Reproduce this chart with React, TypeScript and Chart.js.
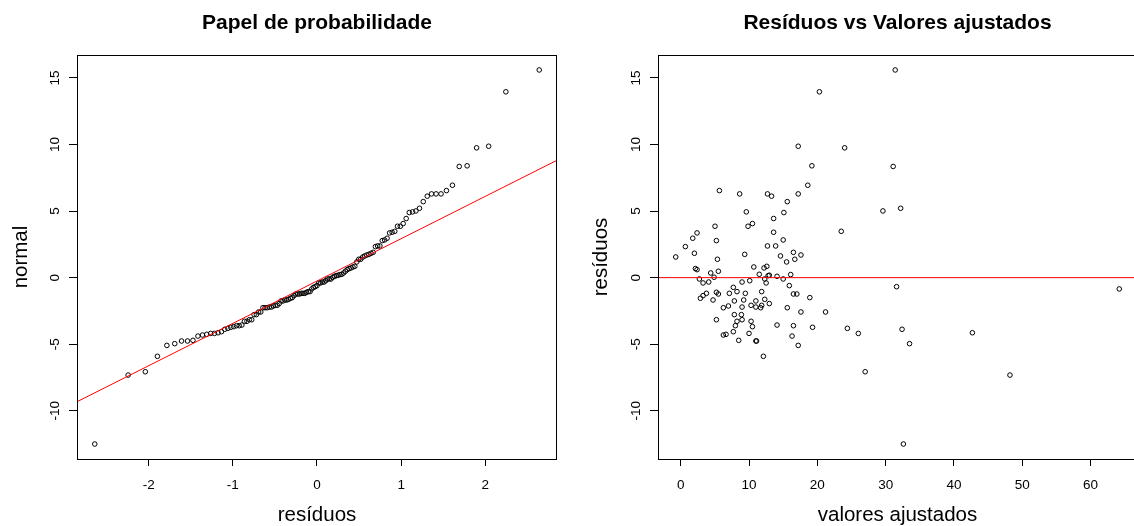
import React, { useEffect, useRef } from "react";
import { Chart, registerables } from "chart.js";

Chart.register(...registerables);

// ---- data ----
const fittedValues = [
  31.4, 20.3, 17.2, 24.0, 19.2, 31.1, 18.6, 5.66, 8.63, 12.7,
  13.3, 17.2, 15.6, 9.6, 15.1, 29.6, 32.2, 13.6, 10.5, 9.85,
  5.02, 2.39, 1.76, 13.6, 23.5, 5.22, 15.0, 0.68, 12.7, 13.9,
  2.0, -0.73, 9.37, 14.6, 16.5, 17.6, 16.7, 15.5, 5.37, 2.15,
  2.39, 10.7, 12.2, 12.6, 5.51, 4.39, 11.5, 12.8, 12.97, 16.1,
  14.1, 4.88, 2.73, 15.0, 12.3, 3.27, 4.1, 8.98, 10.1, 12.5,
  15.9, 31.6, 64.2, 7.7, 11.85, 8.24, 5.22, 5.51, 7.12, 9.46,
  3.76, 3.27, 2.88, 16.5, 17.0, 18.9, 4.73, 7.85, 9.22, 11.0,
  12.3, 12.97, 10.3, 6.98, 6.24, 8.98, 11.0, 11.7, 11.85, 15.6,
  17.6, 21.2, 7.85, 8.88, 8.98, 8.24, 5.22, 10.3, 8.0, 10.5,
  14.1, 16.5, 19.3, 24.4, 32.4, 7.7, 10.0, 6.24, 6.63, 16.3,
  26.0, 42.7, 8.49, 11.0, 11.1, 17.2, 33.5, 12.1, 27.0, 48.2,
  32.6,
];

const residuals = [
  15.6, 13.96, 9.87, 9.75, 8.4, 8.35, 6.94, 6.54, 6.29, 6.29,
  6.12, 6.29, 5.71, 4.94, 4.89, 5.01, 5.21, 4.44, 4.06, 3.86,
  3.86, 3.36, 2.96, 3.41, 3.48, 2.78, 2.83, 2.33, 2.38, 2.38,
  1.83, 1.55, 1.75, 1.63, 1.9, 1.7, 1.38, 1.18, 1.38, 0.68,
  0.6, 0.8, 0.73, 0.85, 0.48, 0.35, 0.25, 0.15, 0.18, 0.23,
  0.1, 0.03, -0.1, -0.1, -0.1, -0.4, -0.33, -0.33, -0.23, -0.4,
  -0.6, -0.68, -0.85, -0.73, -1.05, -1.05, -1.1, -1.23, -1.18, -1.18,
  -1.18, -1.35, -1.55, -1.23, -1.23, -1.5, -1.68, -1.75, -1.68, -1.75,
  -1.63, -1.95, -2.08, -2.13, -2.26, -2.21, -2.21, -2.26, -2.08, -2.26,
  -2.58, -2.58, -2.78, -2.78, -3.16, -3.28, -3.16, -3.28, -3.61, -3.68,
  -3.56, -3.61, -3.73, -3.81, -3.88, -4.06, -4.19, -4.31, -4.26, -4.39,
  -4.19, -4.14, -4.71, -4.76, -4.76, -5.09, -4.96, -5.91, -7.07, -7.32,
  -12.5,
];

const qqTicksX = [-2, -1, 0, 1, 2];
const fittedTicksX = [0, 10, 20, 30, 40, 50, 60];
const residualTicksY = [-10, -5, 0, 5, 10, 15];

const qqLineIntercept = -0.255;
const qqLineSlope = 3.18;

const leftTitle = "Papel de probabilidade";
const rightTitle = "Resíduos vs Valores ajustados";
const leftXLabel = "resíduos";
const leftYLabel = "normal";
const rightXLabel = "valores ajustados";
const rightYLabel = "resíduos";

// ---- helpers ----
const FONT = "'Liberation Sans', Arial, Helvetica, sans-serif";

// Normal quantile function (Acklam), used for the theoretical quantiles of the Q-Q plot
function qnorm(p: number): number {
  const a = [-3.969683028665376e1, 2.209460984245205e2, -2.759285104469687e2, 1.38357751867269e2, -3.066479806614716e1, 2.506628277459239];
  const b = [-5.447609879822406e1, 1.615858368580409e2, -1.556989798598866e2, 6.680131188771972e1, -1.328068155288572e1];
  const c = [-7.784894002430293e-3, -3.223964580411365e-1, -2.400758277161838, -2.549732539343734, 4.374664141464968, 2.938163982698783];
  const d = [7.784695709041462e-3, 3.224671290700398e-1, 2.445134137142996, 3.754408661907416];
  const pl = 0.02425;
  if (p < pl) {
    const q = Math.sqrt(-2 * Math.log(p));
    return (((((c[0] * q + c[1]) * q + c[2]) * q + c[3]) * q + c[4]) * q + c[5]) / ((((d[0] * q + d[1]) * q + d[2]) * q + d[3]) * q + 1);
  }
  if (p <= 1 - pl) {
    const q = p - 0.5;
    const r = q * q;
    return ((((((a[0] * r + a[1]) * r + a[2]) * r + a[3]) * r + a[4]) * r + a[5]) * q) / (((((b[0] * r + b[1]) * r + b[2]) * r + b[3]) * r + b[4]) * r + 1);
  }
  const q = Math.sqrt(-2 * Math.log(1 - p));
  return -(((((c[0] * q + c[1]) * q + c[2]) * q + c[3]) * q + c[4]) * q + c[5]) / ((((d[0] * q + d[1]) * q + d[2]) * q + d[3]) * q + 1);
}

function rRange(vals: number[]): [number, number] {
  const mn = Math.min(...vals);
  const mx = Math.max(...vals);
  const d = (mx - mn) * 0.04;
  return [mn - d, mx + d];
}

const boxPlugin = {
  id: "rbox",
  afterDraw(chart: any) {
    const { ctx, chartArea: a } = chart;
    ctx.save();
    ctx.strokeStyle = "#000";
    ctx.lineWidth = 1;
    ctx.strokeRect(a.left + 0.5, a.top + 0.5, a.right - a.left - 1, a.bottom - a.top);
    ctx.restore();
  },
};

interface PanelOpts {
  title: string;
  xTitle: string;
  yTitle: string;
  yWidth: number;
  yTitlePad: number;
  padRight: number;
  xRange: [number, number];
  yRange: [number, number];
  xTicks: number[];
  points: { x: number; y: number }[];
  line: { x: number; y: number }[];
}

function buildConfig(p: PanelOpts): any {
  return {
    type: "scatter",
    data: {
      datasets: [
        {
          data: p.line,
          showLine: true,
          borderColor: "#ff0000",
          borderWidth: 1,
          pointRadius: 0,
          backgroundColor: "transparent",
        },
        {
          data: p.points,
          pointStyle: "circle",
          pointRadius: 2.3,
          pointBorderWidth: 1,
          borderColor: "#000",
          backgroundColor: "rgba(0,0,0,0)",
          showLine: false,
        },
      ],
    },
    options: {
      responsive: false,
      animation: false,
      devicePixelRatio: 1,
      events: [],
      layout: { padding: { left: 0, right: p.padRight, top: 0, bottom: 0 } },
      plugins: {
        legend: { display: false },
        tooltip: { enabled: false },
        title: {
          display: true,
          text: p.title,
          fullSize: false,
          color: "#000",
          font: { family: FONT, size: 21, weight: "bold", lineHeight: 1 },
          padding: { top: 13, bottom: 21 },
        },
      },
      scales: {
        x: {
          type: "linear",
          position: "bottom",
          min: p.xRange[0],
          max: p.xRange[1],
          afterBuildTicks: (s: any) => {
            s.ticks = p.xTicks.map((v) => ({ value: v }));
          },
          afterFit: (s: any) => {
            s.height = 67;
          },
          grid: { drawOnChartArea: false, drawTicks: true, tickLength: 7, color: "#000", lineWidth: 1 },
          border: { display: false },
          ticks: {
            color: "#000",
            font: { family: FONT, size: 13.5, lineHeight: 1 },
            padding: 13,
            autoSkip: false,
            minRotation: 0,
            maxRotation: 0,
            callback: (v: any) => String(v),
          },
          title: {
            display: true,
            text: p.xTitle,
            color: "#000",
            font: { family: FONT, size: 20.5, lineHeight: 1 },
            padding: { top: 0, bottom: 0 },
          },
        },
        y: {
          type: "linear",
          position: "left",
          min: p.yRange[0],
          max: p.yRange[1],
          afterBuildTicks: (s: any) => {
            s.ticks = residualTicksY.map((v) => ({ value: v }));
          },
          afterFit: (s: any) => {
            s.width = p.yWidth;
          },
          grid: { drawOnChartArea: false, drawTicks: true, tickLength: 8, color: "#000", lineWidth: 1 },
          border: { display: false },
          ticks: {
            color: "#000",
            font: { family: FONT, size: 13.5, lineHeight: 1 },
            padding: 4,
            autoSkip: false,
            minRotation: 90,
            maxRotation: 90,
            crossAlign: "center",
            callback: (v: any) => String(v),
          },
          title: {
            display: true,
            text: p.yTitle,
            color: "#000",
            font: { family: FONT, size: 20.5, lineHeight: 1 },
            padding: { top: p.yTitlePad, bottom: 0 },
          },
        },
      },
    },
    plugins: [boxPlugin],
  };
}

function Panel({ left, width, config }: { left: number; width: number; config: () => any }) {
  const ref = useRef<HTMLCanvasElement>(null);
  useEffect(() => {
    const chart = new Chart(ref.current as HTMLCanvasElement, config());
    return () => chart.destroy();
  }, []);
  return (
    <canvas
      ref={ref}
      width={width}
      height={526}
      style={{ position: "absolute", left, top: 0, width, height: 526, display: "block" }}
    />
  );
}

export default function App() {
  const n = residuals.length;
  const sorted = [...residuals].sort((a, b) => a - b);
  const theo = sorted.map((_, i) => qnorm((i + 1 - 0.5) / n));
  const qqPoints = sorted.map((r, i) => ({ x: theo[i], y: r }));
  const leftX = rRange(theo);
  const yR = rRange(residuals);
  const qqLine = [
    { x: leftX[0], y: qqLineIntercept + qqLineSlope * leftX[0] },
    { x: leftX[1], y: qqLineIntercept + qqLineSlope * leftX[1] },
  ];

  const rightX = rRange(fittedValues);
  const rvPoints = fittedValues.map((f, i) => ({ x: f, y: residuals[i] }));
  const zeroLine = [
    { x: rightX[0], y: 0 },
    { x: rightX[1], y: 0 },
  ];

  const leftCfg = () =>
    buildConfig({
      title: leftTitle,
      xTitle: leftXLabel,
      yTitle: leftYLabel,
      yWidth: 77,
      yTitlePad: 11,
      padRight: 10,
      xRange: leftX,
      yRange: yR,
      xTicks: qqTicksX,
      points: qqPoints,
      line: qqLine,
    });

  const rightCfg = () =>
    buildConfig({
      title: rightTitle,
      xTitle: rightXLabel,
      yTitle: rightYLabel,
      yWidth: 91,
      yTitlePad: 24,
      padRight: 4,
      xRange: rightX,
      yRange: yR,
      xTicks: fittedTicksX,
      points: rvPoints,
      line: zeroLine,
    });

  return (
    <div
      style={{
        position: "fixed",
        left: 0,
        top: 0,
        width: 1134,
        height: 526,
        overflow: "hidden",
        background: "#fff",
      }}
    >
      <Panel left={0} width={567} config={leftCfg} />
      <Panel left={567} width={575} config={rightCfg} />
    </div>
  );
}
